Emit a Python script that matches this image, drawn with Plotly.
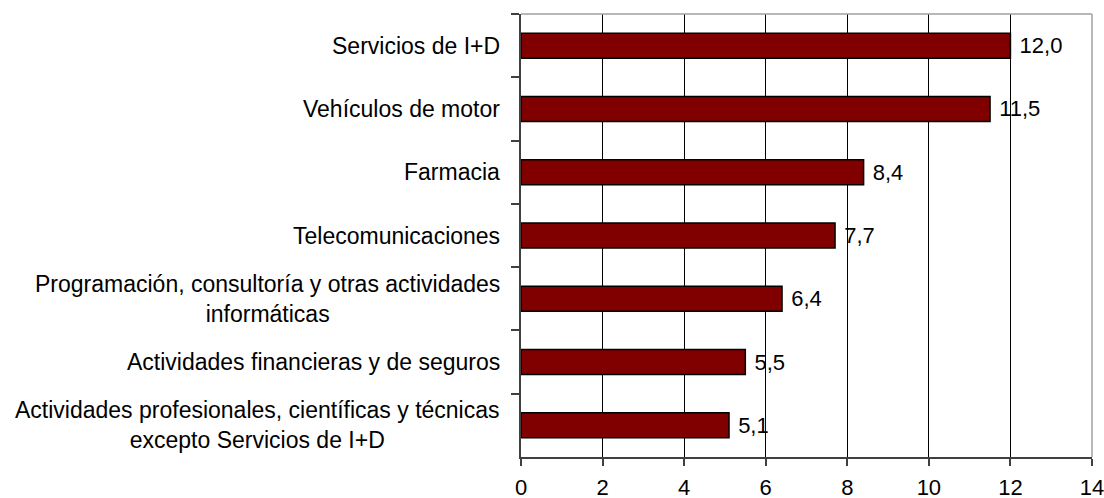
import plotly.graph_objects as go

categories = [
    "Servicios de I+D",
    "Vehículos de motor",
    "Farmacia",
    "Telecomunicaciones",
    "Programación, consultoría y otras actividades<br>informáticas",
    "Actividades financieras y de seguros",
    "Actividades profesionales, científicas y técnicas<br>excepto Servicios de I+D",
]
values = [12.0, 11.5, 8.4, 7.7, 6.4, 5.5, 5.1]
x_ticks = [0, 2, 4, 6, 8, 10, 12, 14]

FONT = "Arial, 'Liberation Sans', sans-serif"

fig = go.Figure()
fig.add_trace(go.Bar(
    y=categories,
    x=values,
    orientation="h",
    marker=dict(color="#800000", line=dict(color="#000000", width=1.5)),
    texttemplate=" %{x:.1f}",
    textposition="outside",
    textfont=dict(family=FONT, size=22, color="#000000"),
    cliponaxis=False,
    hoverinfo="skip",
))

annotations = []
for c in categories:
    annotations.append(dict(
        x=0, xref="paper", y=c, yref="y",
        text=c, showarrow=False, xanchor="right", yanchor="middle",
        align="center", xshift=-19,
        font=dict(family=FONT, size=23, color="#000000"),
    ))

fig.update_layout(
    width=1104, height=498,
    margin=dict(l=521, r=12, t=14, b=41, autoexpand=False),
    plot_bgcolor="#ffffff", paper_bgcolor="#ffffff",
    showlegend=False,
    bargap=0.605,
    separators=",.",
    font=dict(family=FONT, size=22, color="#000000"),
    annotations=annotations,
    xaxis=dict(
        range=[0, 14], tickvals=x_ticks, ticktext=[str(v) for v in x_ticks],
        showgrid=True, gridcolor="#000000", gridwidth=1,
        showline=True, linecolor="#404040", linewidth=1.5,
        ticks="outside", ticklen=7, tickcolor="#404040", tickwidth=1.5,
        zeroline=False, ticklabelstandoff=3, automargin=False,
        ticklabeloverflow="allow",
        tickfont=dict(family=FONT, size=22, color="#000000"),
    ),
    yaxis=dict(
        type="category", autorange="reversed",
        showgrid=False, showline=True, linecolor="#404040", linewidth=1.5,
        ticks="outside", tickson="boundaries", ticklen=8,
        tickcolor="#404040", tickwidth=1.5,
        showticklabels=False, zeroline=False, automargin=False,
    ),
    shapes=[
        dict(type="line", xref="paper", yref="paper", x0=0, x1=1, y0=1, y1=1,
             line=dict(color="#a0a0a0", width=1.5), layer="above"),
        dict(type="line", xref="paper", yref="paper", x0=1, x1=1, y0=0, y1=1,
             line=dict(color="#a0a0a0", width=1.5), layer="above"),
    ],
)

fig.write_html("out.html", config={"displayModeBar": False})

# remove default browser body margin so the figure sits at the page origin
with open("out.html", "r", encoding="utf-8") as f:
    html = f.read()
html = html.replace("<head>", "<head><style>html,body{margin:0;padding:0;overflow:hidden;}</style>", 1)
with open("out.html", "w", encoding="utf-8") as f:
    f.write(html)
